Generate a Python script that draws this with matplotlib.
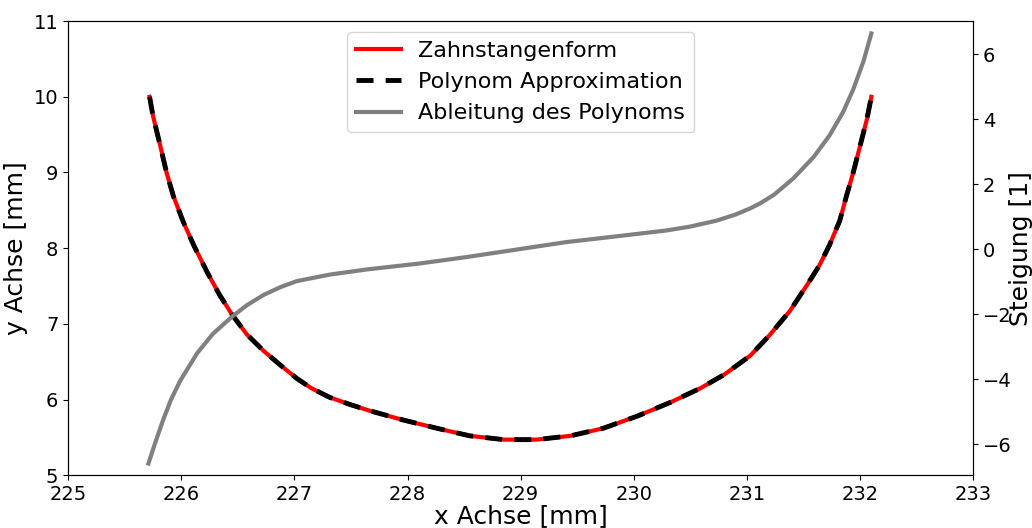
import matplotlib
matplotlib.use("Agg")
import matplotlib.pyplot as plt

# Zahnstangenform / Polynom Approximation
x_form = [225.72, 225.75, 225.81, 225.87, 225.93, 226.02, 226.11, 226.23, 226.34,
          226.45, 226.58, 226.73, 226.88, 227.02, 227.15, 227.31, 227.50, 227.67,
          227.96, 228.26, 228.55, 228.85, 229.14, 229.44, 229.73, 230.03, 230.32,
          230.59, 230.80, 231.03, 231.20, 231.38, 231.53, 231.64, 231.73, 231.82,
          231.88, 231.94, 232.00, 232.06, 232.10]
y_form = [10.0, 9.75, 9.38, 9.0, 8.69, 8.34, 8.04, 7.68, 7.38,
          7.12, 6.86, 6.64, 6.45, 6.28, 6.15, 6.03, 5.93, 5.85,
          5.73, 5.62, 5.52, 5.47, 5.47, 5.52, 5.62, 5.78, 5.96,
          6.15, 6.33, 6.58, 6.85, 7.17, 7.51, 7.77, 8.04, 8.36,
          8.69, 9.0, 9.35, 9.70, 10.0]

# Ableitung des Polynoms (right axis)
x_deriv = [225.71, 225.77, 225.84, 225.91, 225.99, 226.14, 226.28, 226.45, 226.58,
           226.73, 226.88, 227.02, 227.31, 227.64, 228.10, 228.52, 228.98, 229.40,
           229.85, 230.29, 230.50, 230.73, 230.90, 231.03, 231.12, 231.24, 231.41,
           231.59, 231.73, 231.85, 231.94, 232.03, 232.10]
y_deriv = [-6.59, -5.95, -5.25, -4.62, -4.05, -3.20, -2.60, -2.07, -1.72,
           -1.40, -1.16, -0.98, -0.78, -0.62, -0.44, -0.24, 0.0, 0.22,
           0.40, 0.58, 0.70, 0.88, 1.07, 1.26, 1.42, 1.68, 2.18,
           2.84, 3.50, 4.22, 4.92, 5.78, 6.64]

fig, ax = plt.subplots(figsize=(10.32, 5.28), dpi=100)
fig.subplots_adjust(left=0.066, right=0.943, top=0.960, bottom=0.100)

l1, = ax.plot(x_form, y_form, color="red", lw=3, label="Zahnstangenform")
l2, = ax.plot(x_form, y_form, color="black", lw=3.5, ls=(0, (3.5, 2.5)),
              label="Polynom Approximation")
ax.set_xlim(225, 233)
ax.set_ylim(5, 11)
ax.set_xlabel("x Achse [mm]", fontsize=18, labelpad=0)
ax.set_ylabel("y Achse [mm]", fontsize=18)
ax.tick_params(labelsize=14)

ax2 = ax.twinx()
l3, = ax2.plot(x_deriv, y_deriv, color="gray", lw=3, label="Ableitung des Polynoms")
ax2.set_ylim(-6.95, 7.02)
ax2.set_yticks([-6, -4, -2, 0, 2, 4, 6])
ax2.set_ylabel("Steigung [1]", fontsize=18, labelpad=-2)
ax2.tick_params(labelsize=14)

ax.legend(handles=[l1, l2, l3], loc="upper center", fontsize=16)

fig.savefig("out.png")
